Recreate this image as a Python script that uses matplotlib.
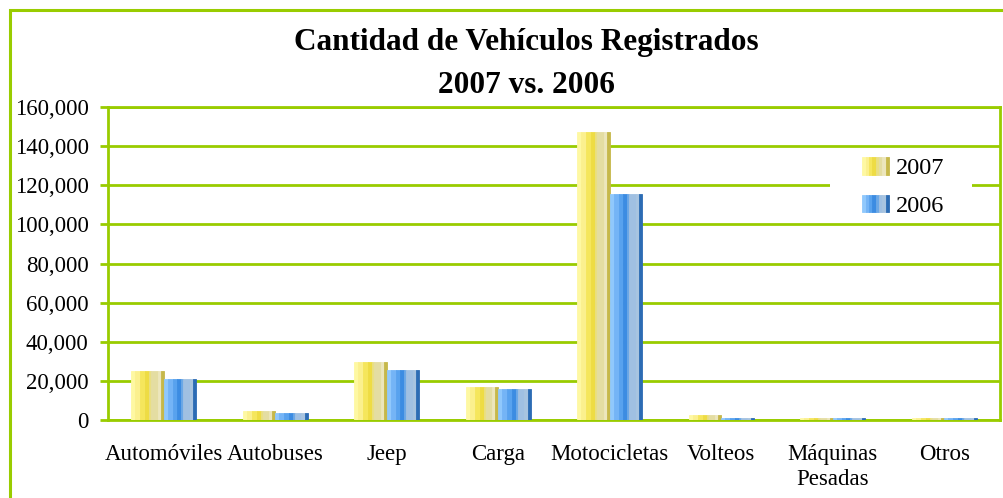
import matplotlib
matplotlib.use("Agg")
import matplotlib.pyplot as plt
from matplotlib.patches import Rectangle
from matplotlib.ticker import FuncFormatter
from matplotlib.legend_handler import HandlerTuple
import numpy as np

# data
categorias = ["Automóviles", "Autobuses", "Jeep", "Carga", "Motocicletas",
              "Volteos", "Máquinas\nPesadas", "Otros"]
v2007 = [25000, 4600, 29700, 16900, 147200, 2600, 800, 800]
v2006 = [21000, 3600, 25600, 15900, 115400, 1000, 800, 800]
series = ["2007", "2006"]

verde = "#99CC00"
plt.rcParams["font.family"] = ["Liberation Serif", "DejaVu Serif"]

# stripes that fake the gradient fill of each bar
franjas_am = ["#FEF8A2", "#FBF08E", "#F5E65C", "#EEDC44", "#E9DF84", "#E4DDA2", "#ECE6BC", "#C6B84A"]
franjas_az = ["#90C8FC", "#74B4F6", "#58A2EE", "#3C8CE2", "#6CA8E6", "#A0C0E2", "#A8C4E0", "#2C6CB4"]
anchos = np.array([12, 15, 15, 12, 6, 20, 10, 9], dtype=float)
anchos = anchos / anchos.sum()

fig = plt.figure(figsize=(10.04, 4.98), dpi=100)
ax = fig.add_axes([108 / 1004, 78 / 498, 892 / 1004, 313 / 498])

x = np.arange(len(categorias))
w = 0.29


def barras(valores, x0, colores):
    izq = x0
    for c, a in zip(colores, anchos):
        ax.bar(izq, valores, width=w * a, align="edge", color=c, edgecolor=c,
               linewidth=0.6, zorder=3)
        izq = izq + w * a


barras(v2007, x - w, franjas_am)
barras(v2006, x, franjas_az)

ax.set_xlim(-0.5, len(categorias) - 0.5)
ax.set_ylim(0, 160000)
ax.set_yticks(np.arange(0, 160001, 20000))
ax.yaxis.set_major_formatter(FuncFormatter(lambda v, p: f"{v:,.0f}"))
ax.set_xticks(x)
ax.set_xticklabels(categorias, linespacing=1.3)
ax.tick_params(axis="y", length=6, width=2, color=verde, labelsize=16.5, pad=8)
ax.tick_params(axis="x", length=0, labelsize=16.5, pad=17)

ax.grid(axis="y", color=verde, linewidth=2)
ax.set_axisbelow(True)
for s in ax.spines.values():
    s.set_color(verde)
    s.set_linewidth(2)

# white box behind the legend
ax.add_patch(Rectangle((0.809, 0.66), 0.16, 0.205, transform=ax.transAxes,
                       facecolor="white", edgecolor="none", zorder=2))

h07 = tuple(Rectangle((0, 0), 1, 1, facecolor=c, edgecolor=c, linewidth=0.6) for c in franjas_am)
h06 = tuple(Rectangle((0, 0), 1, 1, facecolor=c, edgecolor=c, linewidth=0.6) for c in franjas_az)
ax.legend([h07, h06], series, handler_map={tuple: HandlerTuple(ndivide=None, pad=0)},
          frameon=False, loc="upper left", bbox_to_anchor=(0.8456, 0.84),
          fontsize=17.5, handlelength=1.1, handleheight=0.75, handletextpad=0.3,
          labelspacing=0.62, borderpad=0, borderaxespad=0)

fig.text(0.524, 0.914, "Cantidad de Vehículos Registrados", ha="center", va="center",
         fontsize=22.5, fontweight="bold")
fig.text(0.524, 0.828, "2007 vs. 2006", ha="center", va="center",
         fontsize=22.5, fontweight="bold")

# outer chart frame (only top and left visible)
fig.add_artist(Rectangle((9.5 / 1004, -0.1), 1.2, 1.1 - 10.5 / 498, transform=fig.transFigure,
                         facecolor="none", edgecolor=verde, linewidth=2.2, clip_on=False))

fig.savefig("out.png", dpi=100)
